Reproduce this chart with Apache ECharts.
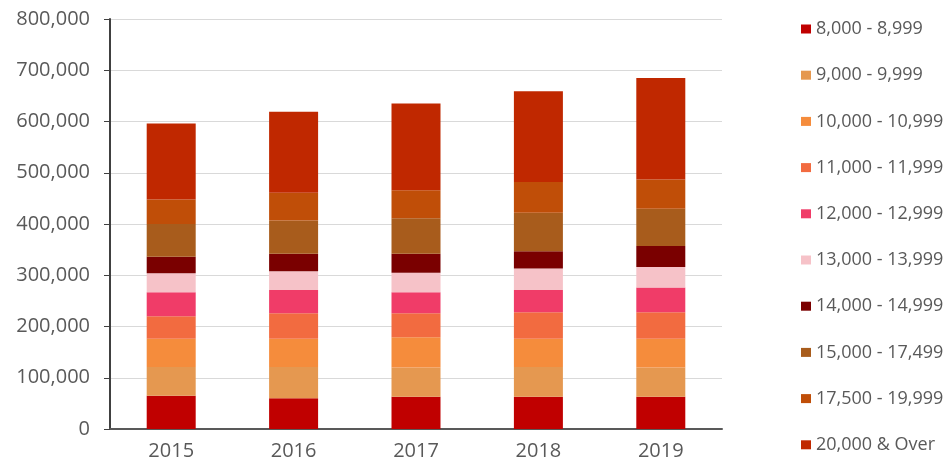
<!DOCTYPE html>
<html>
<head>
<meta charset="utf-8">
<script src="https://cdn.jsdelivr.net/npm/echarts@6/dist/echarts.min.js"></script>
<style>
  html, body { margin: 0; padding: 0; background: #fff; }
  #chart { width: 946px; height: 463px; }
</style>
</head>
<body>
<div id="chart"></div>
<script>
// Years on the category axis
const years = ['2015', '2016', '2017', '2018', '2019'];

// Band labels, bottom of the stack first
const bands = [
  '8,000 - 8,999', '9,000 - 9,999', '10,000 - 10,999', '11,000 - 11,999',
  '12,000 - 12,999', '13,000 - 13,999', '14,000 - 14,999', '15,000 - 17,499',
  '17,500 - 19,999', '20,000 & Over'
];

// Counts per band, one value per year
const band8000  = [65000, 60000, 63000, 63000, 63000];
const band9000  = [56000, 61000, 57000, 58000, 57000];
const band10000 = [55000, 55000, 59000, 55000, 56000];
const band11000 = [44000, 50000, 47000, 52000, 52000];
const band12000 = [47000, 45000, 41000, 43000, 48000];
const band13000 = [37000, 37000, 38000, 42000, 40000];
const band14000 = [32000, 34000, 37000, 34000, 41000];
const band15000 = [64000, 65000, 69000, 75000, 73000];
const band17500 = [48000, 54000, 55000, 60000, 57000];
const band20000 = [148000, 158000, 169000, 177000, 198000];

const bandValues = [band8000, band9000, band10000, band11000, band12000,
                    band13000, band14000, band15000, band17500, band20000];

const bandColors = ['#C00000', '#E59850', '#F58C3C', '#F26B40', '#F03C68',
                    '#F6C2C8', '#7A0000', '#A85C1C', '#C04E08', '#C02800'];

// Y axis ticks
const yMin = 0, yMax = 800000, yStep = 100000;

const fontFamily = '"Open Sans", "Noto Sans", sans-serif';
const textColor = '#595959';

const chart = echarts.init(document.getElementById('chart'), null, { renderer: 'canvas' });

chart.setOption({
  animation: false,
  backgroundColor: '#ffffff',
  grid: { left: 110, right: 224, top: 19, bottom: 34, containLabel: false },
  legend: {
    orient: 'vertical',
    left: 801,
    top: 19,
    padding: 0,
    height: 444,
    icon: 'rect',
    itemWidth: 10,
    itemHeight: 9,
    itemGap: 26.2,
    data: bands,
    textStyle: { fontFamily, fontSize: 18, color: textColor, lineHeight: 20 }
  },
  xAxis: {
    type: 'category',
    data: years,
    axisLine: { show: true, lineStyle: { color: '#595959', width: 2 } },
    axisTick: { show: false },
    axisLabel: { fontFamily, fontSize: 20, color: textColor, margin: 12 },
    splitLine: { show: false }
  },
  yAxis: {
    type: 'value',
    min: yMin,
    max: yMax,
    interval: yStep,
    axisLine: { show: true, lineStyle: { color: '#404040', width: 2 } },
    axisTick: { show: true, length: 6, lineStyle: { color: '#404040', width: 1 } },
    axisLabel: {
      fontFamily, fontSize: 20, color: textColor, margin: 20,
      formatter: v => v.toLocaleString('en-US')
    },
    splitLine: { show: true, lineStyle: { color: '#d9d9d9', width: 1 } }
  },
  series: bands.map((name, i) => ({
    name,
    type: 'bar',
    stack: 'total',
    barWidth: 49,
    data: bandValues[i],
    itemStyle: { color: bandColors[i] }
  }))
});
</script>
</body>
</html>
